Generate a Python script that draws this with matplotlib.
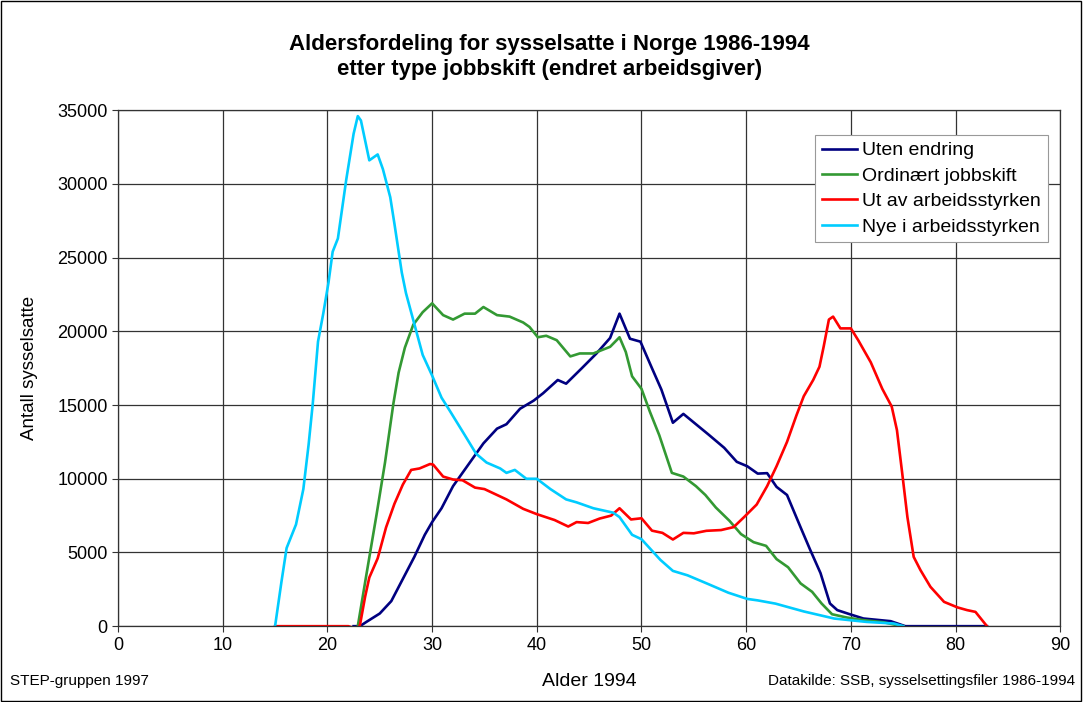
import numpy as np
import matplotlib.pyplot as plt
from matplotlib.patches import Rectangle

plt.rcParams['font.family'] = ['Liberation Sans', 'DejaVu Sans']

# Data (age, number employed)
uten_age = [22.5, 23.1, 23.7, 25.0, 26.1, 27.2, 28.3, 29.3, 30.0, 30.9, 32.0, 33.3, 34.9,
            36.2, 37.1, 38.4, 39.7, 40.6, 42.0, 42.8, 44.3, 45.7, 47.0, 47.9, 48.9, 49.9,
            51.0, 51.9, 53.0, 54.0, 55.2, 56.4, 57.9, 59.1, 60.1, 61.1, 62.0, 62.9, 63.9,
            65.2, 66.1, 67.1, 68.0, 68.7, 69.9, 71.2, 73.8, 75.2, 83.0]
uten_val = [0, 0, 280, 860, 1700, 3200, 4700, 6200, 7060, 8000, 9500, 10800, 12400,
            13400, 13700, 14750, 15300, 15800, 16700, 16450, 17500, 18500, 19550, 21200, 19500, 19300,
            17500, 16050, 13800, 14400, 13700, 13000, 12100, 11150, 10850, 10350, 10380, 9450, 8900,
            6700, 5200, 3600, 1540, 1090, 810, 520, 340, 0, 0]

ordinaert_age = [22.9, 23.7, 24.7, 25.5, 26.3, 26.8, 27.4, 28.2, 29.1, 30.0, 31.05, 32.0,
                 33.1, 34.1, 34.9, 36.2, 37.4, 38.7, 39.3, 40.1, 40.9, 41.9, 43.2, 44.1,
                 45.4, 47.0, 47.9, 48.5, 49.1, 50.0, 50.8, 51.7, 52.9, 54.0, 55.2, 56.1,
                 57.1, 58.4, 59.5, 60.7, 61.9, 62.9, 64.0, 65.2, 66.3, 67.2, 68.2, 69.6,
                 71.2, 73.1, 74.4, 75.0]
ordinaert_val = [0, 3400, 7600, 11100, 15100, 17200, 18900, 20450, 21300, 21900, 21100, 20800,
                 21200, 21200, 21650, 21100, 21000, 20600, 20300, 19600, 19700, 19400, 18300, 18500,
                 18500, 18950, 19600, 18600, 16950, 16100, 14550, 12950, 10400, 10150, 9500, 8900,
                 8050, 7150, 6250, 5700, 5450, 4550, 4000, 2900, 2330, 1540, 810, 590,
                 410, 270, 70, 0]

utav_age = [15.0, 22.0, 22.8, 23.1, 23.6, 24.0, 24.8, 25.6, 26.4, 27.2, 28.0, 28.8, 29.8,
            30.1, 31.05, 32.0, 32.9, 34.1, 35.0, 36.5, 37.1, 38.7, 40.0, 41.7, 43.0, 43.8,
            44.9, 46.0, 47.1, 47.9, 49.0, 50.0, 51.0, 52.0, 53.0, 54.0, 55.0, 56.2, 57.6,
            58.8, 59.8, 61.0, 62.0, 62.9, 63.9, 64.8, 65.5, 66.4, 67.0, 67.4, 67.9, 68.3,
            69.0, 70.0, 70.7, 71.9, 73.0, 73.9, 74.4, 74.9, 75.4, 76.0, 76.65, 77.6, 78.9,
            80.2, 81.1, 81.9, 83.0]
utav_val = [0, 0, -190, 50, 2000, 3300, 4600, 6700, 8300, 9600, 10600, 10700, 11000,
            10960, 10150, 9950, 9900, 9400, 9300, 8800, 8600, 7960, 7600, 7200, 6760, 7060,
            7000, 7300, 7500, 8000, 7240, 7320, 6480, 6330, 5880, 6330, 6300, 6470, 6520,
            6720, 7400, 8250, 9500, 10850, 12500, 14300, 15600, 16700, 17600, 18960, 20800, 21000,
            20200, 20200, 19400, 17900, 16100, 14900, 13300, 10400, 7400, 4700, 3800, 2670, 1650,
            1270, 1090, 970, 0]

nye_age = [15.0, 15.6, 16.1, 17.0, 17.7, 18.2, 18.6, 19.1, 19.6, 20.1, 20.5, 21.0, 21.8,
           22.5, 22.9, 23.2, 24.0, 24.8, 25.3, 26.0, 26.4, 27.1, 27.5, 28.3, 29.1, 30.0,
           30.9, 31.7, 33.0, 34.2, 35.2, 36.5, 37.1, 37.9, 39.0, 40.0, 41.3, 42.8, 43.8,
           45.4, 47.3, 47.9, 49.1, 50.0, 51.8, 53.0, 54.4, 56.3, 58.3, 60.1, 61.1, 62.8,
           65.5, 68.4, 71.5, 74.1, 75.0]
nye_val = [0, 2970, 5300, 6900, 9300, 12300, 15100, 19300, 21200, 23300, 25400, 26300, 30300,
           33400, 34600, 34300, 31600, 32000, 31000, 29100, 27300, 24000, 22600, 20500, 18400, 17000,
           15500, 14600, 13100, 11700, 11100, 10700, 10400, 10600, 10000, 10000, 9300, 8600, 8400,
           8000, 7700, 7400, 6200, 5900, 4500, 3750, 3450, 2880, 2270, 1850, 1750, 1530,
           1000, 520, 290, 180, 0]

series = [
    ("Uten endring", uten_age, uten_val, "#000080"),
    ("Ordinært jobbskift", ordinaert_age, ordinaert_val, "#339933"),
    ("Ut av arbeidsstyrken", utav_age, utav_val, "#ff0000"),
    ("Nye i arbeidsstyrken", nye_age, nye_val, "#00ccff"),
]

fig = plt.figure(figsize=(10.83, 7.02), dpi=100)
ax = fig.add_axes([0.109, 0.108, 0.870, 0.735])

for label, age, val, color in series:
    ax.plot(age, val, color=color, lw=1.9, label=label, solid_joinstyle="round")

ax.set_xlim(0, 90)
ax.set_ylim(0, 35000)
ax.set_xticks(np.arange(0, 91, 10))
ax.set_yticks(np.arange(0, 35001, 5000))
ax.grid(True, color="#333333", lw=0.9)
ax.set_axisbelow(True)
ax.tick_params(labelsize=13, length=4, color="#333333")
for s in ax.spines.values():
    s.set_color("#333333")
    s.set_linewidth(0.9)

ax.set_ylabel("Antall sysselsatte", fontsize=13.5, labelpad=14)
ax.set_xlabel("Alder 1994", fontsize=14, labelpad=14)

fig.text(0.507, 0.919, "Aldersfordeling for sysselsatte i Norge 1986-1994\n"
         "etter type jobbskift (endret arbeidsgiver)",
         ha="center", va="center", fontsize=16, fontweight="bold", linespacing=1.25)

fig.text(0.009, 0.02, "STEP-gruppen 1997", fontsize=11, ha="left", va="bottom")
fig.text(0.993, 0.02, "Datakilde: SSB, sysselsettingsfiler 1986-1994", fontsize=11,
         ha="right", va="bottom")

leg = ax.legend(loc="upper right", bbox_to_anchor=(0.987, 0.952), borderaxespad=0,
                fontsize=14, fancybox=False, framealpha=1, edgecolor="#999999",
                handlelength=1.8, handletextpad=0.3, borderpad=0.35, labelspacing=0.4)
leg.get_frame().set_linewidth(0.8)

fig.patches.append(Rectangle((0.001, 0.001), 0.997, 0.997, transform=fig.transFigure,
                             fill=False, edgecolor="black", lw=1))

fig.savefig("out.png", dpi=100)
